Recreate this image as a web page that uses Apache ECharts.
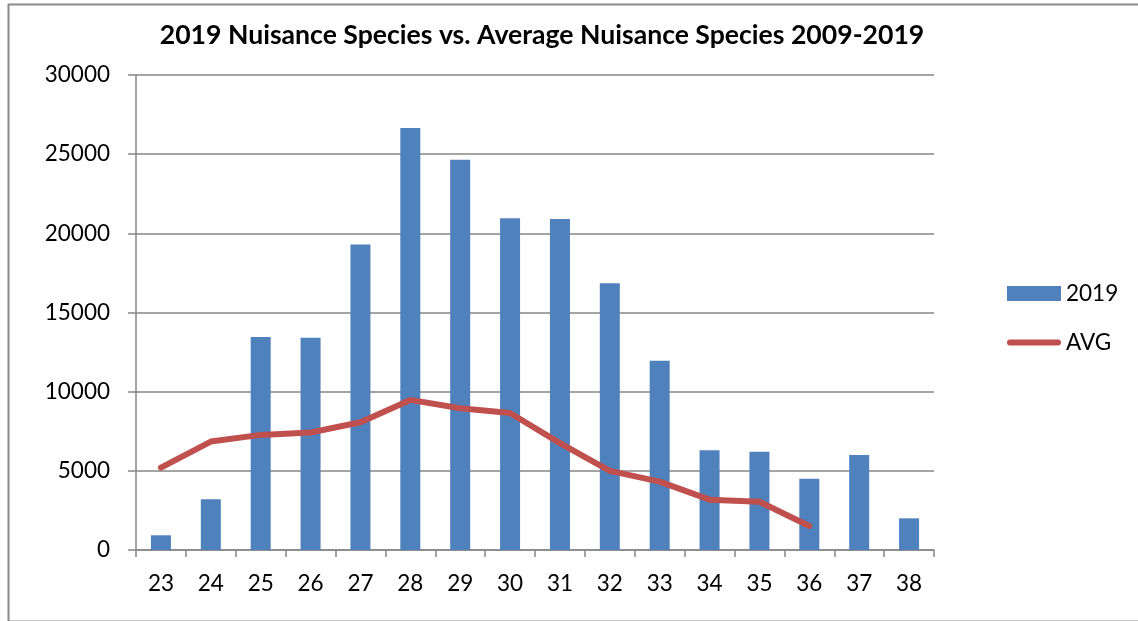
<!DOCTYPE html>
<html>
<head>
<meta charset="utf-8">
<script src="https://cdn.jsdelivr.net/npm/echarts@6/dist/echarts.min.js"></script>
<style>
html,body{margin:0;padding:0;background:#fff;}
#chart{width:1138px;height:621px;}
</style>
</head>
<body>
<div id="chart"></div>
<script>
const titleText = '2019 Nuisance Species vs. Average Nuisance Species 2009-2019';
const categories = ['23','24','25','26','27','28','29','30','31','32','33','34','35','36','37','38'];
const values2019 = [930, 3200, 13450, 13400, 19300, 26650, 24650, 20950, 20900, 16850, 11950, 6300, 6200, 4500, 6000, 2000];
const valuesAvg = [5200, 6850, 7270, 7420, 8070, 9480, 8950, 8650, 6750, 5000, 4320, 3180, 3050, 1520, null, null];
const yMin = 0, yMax = 30000, yStep = 5000;

const FONT = 'Lato, "Open Sans", sans-serif';
const chart = echarts.init(document.getElementById('chart'), null, {renderer: 'canvas'});
chart.setOption({
  animation: false,
  backgroundColor: '#fff',
  title: {
    text: titleText,
    left: 537, top: 17, textAlign: 'center',
    textStyle: {fontFamily: FONT, fontWeight: 'bold', fontSize: 26.6, color: '#000'}
  },
  graphic: [{
    type: 'rect', left: 6, top: 2, silent: true,
    shape: {width: 1132, height: 617},
    style: {fill: 'none', stroke: '#8a8a8a', lineWidth: 2}
  }],
  legend: {
    orient: 'vertical', left: 1002, top: 277,
    itemWidth: 54, itemHeight: 15, itemGap: 26,
    textStyle: {fontFamily: FONT, fontSize: 22.5, color: '#000'},
    data: [
      {name: '2019', icon: 'rect'},
      {name: 'AVG', icon: 'path://M3,0h50a3,3 0 0 1 0,6h-50a3,3 0 0 1 0,-6z'}
    ]
  },
  grid: {left: 136, right: 204, top: 75, bottom: 71, containLabel: false},
  xAxis: {
    type: 'category', data: categories, boundaryGap: true,
    axisLine: {lineStyle: {color: '#868686', width: 1.5}},
    axisTick: {show: true, length: 7, lineStyle: {color: '#868686', width: 1.5}},
    axisLabel: {fontFamily: FONT, fontSize: 22.5, color: '#000', margin: 22}
  },
  yAxis: {
    type: 'value', min: yMin, max: yMax, interval: yStep,
    axisLine: {show: true, lineStyle: {color: '#868686', width: 1.5}},
    axisTick: {show: true, length: 8, lineStyle: {color: '#868686', width: 1.5}},
    splitLine: {lineStyle: {color: '#868686', width: 1.5}},
    axisLabel: {fontFamily: FONT, fontSize: 22.5, color: '#000', margin: 26,
      formatter: function (v) { return String(v); }}
  },
  series: [
    {
      name: '2019', type: 'bar', data: values2019, barWidth: 20,
      itemStyle: {color: '#4F81BD'}
    },
    {
      name: 'AVG', type: 'line', data: valuesAvg, showSymbol: false, symbol: 'none',
      connectNulls: false,
      lineStyle: {color: '#C0504D', width: 6, cap: 'round', join: 'round'},
      itemStyle: {color: '#C0504D'}
    }
  ]
});
</script>
</body>
</html>
